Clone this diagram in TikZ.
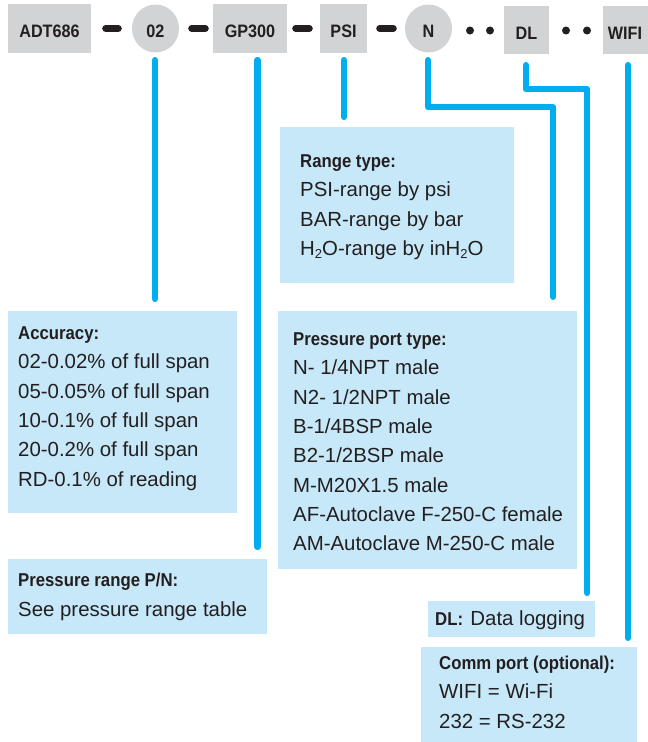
\documentclass[tikz,border=0pt]{standalone}
\usepackage{fontspec}
\setmainfont{Liberation Sans}
\newfontfamily\condfont{Liberation Sans}[FakeStretch=0.9]
\usetikzlibrary{shapes.geometric,calc}
\definecolor{boxgray}{HTML}{D1D3D4}
\definecolor{boxblue}{HTML}{C7E8F8}
\definecolor{linkblue}{HTML}{00AEEF}
\definecolor{ink}{HTML}{231F20}
\newcommand{\lowtwo}{\raisebox{-0.3ex}{\fontsize{13}{13}\selectfont 2}}
\tikzset{
  code/.style={fill=boxgray, inner sep=0pt, text height=18.5pt, text depth=0pt,
    font=\condfont\bfseries\fontsize{18}{20}\selectfont, text=ink},
  coderect/.style={code, rectangle},
  codeoval/.style={code, ellipse},
  infobox/.style={fill=boxblue, inner sep=0pt, rectangle},
  link/.style={draw=linkblue, line width=6.5pt, line cap=round, line join=round},
  hyph/.style={draw=ink, line width=7pt, line cap=round},
  dotmark/.style={circle, fill=ink, inner sep=0pt, minimum size=8pt},
  body/.style={font=\fontsize{20.4}{24}\selectfont, text=ink, inner sep=0pt, anchor=base west},
  head/.style={font=\condfont\bfseries\fontsize{18.6}{22}\selectfont, text=ink, inner sep=0pt, anchor=base west},
}
\begin{document}
\begin{tikzpicture}[x=1pt,y=-1pt]
\useasboundingbox (0,0) rectangle (648,742);

% top code row
\node[coderect, minimum width=83pt, minimum height=49pt] (adt) at (49.5,28.5) {ADT686};
\node[codeoval, minimum width=47pt, minimum height=48pt] (c02) at (155.5,28.5) {02};
\node[coderect, minimum width=74pt, minimum height=49pt] (gp) at (250,28.5) {GP300};
\node[coderect, minimum width=47pt, minimum height=49pt] (psi) at (343.5,28.5) {PSI};
\node[codeoval, minimum width=47pt, minimum height=48pt] (nn) at (428.5,28.5) {N};
\node[coderect, minimum width=45pt, minimum height=48pt] (dl) at (526.5,30) {DL};
\node[coderect, minimum width=45pt, minimum height=48pt] (wifi) at (625,30) {WIFI};

\draw[hyph, shorten <=14.5pt, shorten >=13.5pt] (adt.east) -- (c02.west);
\draw[hyph, shorten <=12.5pt, shorten >=7.5pt] (c02.east) -- (gp.west);
\draw[hyph, shorten <=8.5pt, shorten >=10.5pt] (gp.east) -- (psi.west);
\draw[hyph, shorten <=12.5pt, shorten >=11.5pt] (psi.east) -- (nn.west);

\node[dotmark] (d1) at (470,30.5) {};
\node[dotmark] (d2) at (490,30.5) {};
\node[dotmark] (d3) at (566,30.5) {};
\node[dotmark] (d4) at (587,30.5) {};

% info boxes
\node[infobox, minimum width=234pt, minimum height=156pt] (range) at (397,205) {};
\node[infobox, minimum width=229pt, minimum height=202pt] (acc) at (122.5,412) {};
\node[infobox, minimum width=299pt, minimum height=258pt] (port) at (427.5,440) {};
\node[infobox, minimum width=259pt, minimum height=75pt] (pr) at (137.5,596.5) {};
\node[infobox, minimum width=167pt, minimum height=36pt] (dlb) at (511.5,619) {};
\node[infobox, minimum width=216pt, minimum height=95pt] (comm) at (529,694.5) {};

% connectors
\draw[link] ($(c02.south)+(-0.5,7.5)$) -- ($(c02.south |- acc.north)+(-0.5,-12)$);
\draw[link] ($(gp.south)+(7.5,7)$) -- ($(gp.south |- pr.north)+(7.5,-12)$);
\draw[link] ($(psi.south)+(0.5,7)$) -- ($(psi.south |- range.north)+(0.5,-10)$);
\draw[link] ($(nn.south)+(-0.5,7.5)$) |- ($(port.north east |- nn.south)+(-24,54.5)$) -- ($(port.north east)+(-24,-14)$);
\draw[link] ($(dl.south)+(-0.5,11)$) |- ($(dlb.north east |- dl.south)+(-8,35)$) -- ($(dlb.north east)+(-8,-8)$);
\draw[link] ($(wifi.south)+(3,11)$) -- ($(wifi.south |- comm.north)+(3,-9)$);

% texts
\node[head] (rangeh) at (300,167.5) {Range type:};
\foreach \t [count=\i] in {PSI-range by psi, BAR-range by bar, {H\lowtwo O-range by inH\lowtwo O}}
  \node[body] (range\i) at (300,{167.5+29.3*\i}) {\t};

\node[head] (acch) at (18,339.5) {Accuracy:};
\foreach \t [count=\i] in {02-0.02\% of full span, 05-0.05\% of full span, 10-0.1\% of full span, 20-0.2\% of full span, RD-0.1\% of reading}
  \node[body] (acc\i) at (18,{339.5+29.3*\i}) {\t};

\node[head] (porth) at (293,345.5) {Pressure port type:};
\foreach \t [count=\i] in {N- 1/4NPT male, N2- 1/2NPT male, B-1/4BSP male, B2-1/2BSP male, M-M20X1.5 male, AF-Autoclave F-250-C female, AM-Autoclave M-250-C male}
  \node[body] (port\i) at (293,{345.5+29.3*\i}) {\t};

\node[head] (prh) at (18,586.7) {Pressure range P/N:};
\node[body] (prt) at (18,616) {See pressure range table};

\node[head] (dlh) at (435,625) {DL:};
\node[body] (dlt) at ($(dlh.base east)+(7,0)$) {Data logging};

\node[head] (commh) at (439,669.5) {Comm port (optional):};
\node[body] (comm1) at (439,698.8) {WIFI = Wi-Fi};
\node[body] (comm2) at (439,728.1) {232 = RS-232};
\end{tikzpicture}
\end{document}
